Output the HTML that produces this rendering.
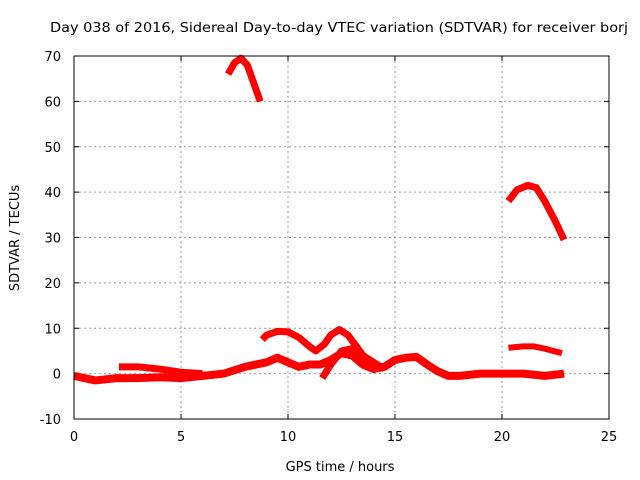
<!DOCTYPE html>
<html><head><meta charset="utf-8"><style>
body{margin:0;background:#fff;}
svg{display:block;font-family:"DejaVu Sans","Liberation Sans",sans-serif;}
</style></head><body>
<svg id="c" width="640" height="480">
<text x="50" y="32" font-size="13" textLength="578" lengthAdjust="spacingAndGlyphs">Day 038 of 2016, Sidereal Day-to-day VTEC variation (SDTVAR) for receiver borj</text>
<text x="340" y="471" font-size="13" text-anchor="middle">GPS time / hours</text>
<text x="19" y="238" font-size="13" text-anchor="middle" transform="rotate(-90 19 238)">SDTVAR / TECUs</text>
<g id="grid"></g><g id="marks"></g>
<rect x="74" y="56" width="535" height="363" fill="none" stroke="#000" stroke-width="1"/>
</svg>
<script>
const xTicks=[0,5,10,15,20,25];
const yTicks=[-10,0,10,20,30,40,50,60,70];
const seriesA=[[0,-0.5],[0.5,-1],[1,-1.5],[2,-1],[3,-1],[4,-0.8],[5,-1],[6,-0.5],[7,0],[8,1.5],[8.5,2],[9,2.5],[9.5,3.5],[10,2.5],[10.5,1.5],[11,2],[11.5,2],[12,3],[12.5,4.5],[13,4],[13.5,2],[14,1],[14.5,1.5],[15,3],[15.5,3.5],[16,3.7],[16.5,2],[17,0.5],[17.5,-0.5],[18,-0.5],[19,0],[20,0],[21,0],[22,-0.5],[22.9,0]];
const seriesB=[[2.1,1.5],[3,1.5],[4,1],[5,0.3],[6,0]];
const seriesC=[[8.8,7.5],[9,8.5],[9.5,9.3],[10,9.2],[10.5,8],[11,6],[11.3,5],[11.7,6.5],[12,8.5],[12.4,9.7],[12.8,8.5],[13.2,6],[13.5,4],[14,2.5],[14.5,1]];
const seriesD=[[11.6,-1],[12,2],[12.5,5],[13,5.5],[13.5,4],[14,2]];
const seriesE=[[7.2,66],[7.5,68.5],[7.8,69.5],[8.1,68],[8.4,64],[8.7,60]];
const seriesF=[[20.3,38],[20.7,40.5],[21.2,41.5],[21.6,41],[22,38],[22.5,33.5],[22.9,29.5]];
const seriesG=[[20.3,5.7],[21,6],[21.5,6],[22,5.5],[22.8,4.5]];
const NS='http://www.w3.org/2000/svg';
const X=v=>74+v*535/25, Y=v=>419-(v+10)*363/80;
const grid=document.getElementById('grid'), marks=document.getElementById('marks');
function mk(t,a,p){const e=document.createElementNS(NS,t);for(const k in a)e.setAttribute(k,a[k]);p.appendChild(e);return e;}
xTicks.forEach(t=>{
  if(t>0&&t<25){const l=mk('line',{x1:X(t),x2:X(t),y1:56,y2:419,stroke:'#999','stroke-dasharray':'2,3'},grid);
  
  }
  const tk=mk('text',{x:X(t),y:441,'font-size':13,'text-anchor':'middle'},grid);tk.textContent=t;
  
  
  mk('line',{x1:X(t),x2:X(t),y1:419,y2:414,stroke:'#000'},grid);
  mk('line',{x1:X(t),x2:X(t),y1:56,y2:61,stroke:'#000'},grid);
});
yTicks.forEach(t=>{
  if(t>-10&&t<70){const l=mk('line',{x1:74,x2:609,y1:Y(t),y2:Y(t),stroke:'#999','stroke-dasharray':'2,3'},grid);
  
  }
  const tk=mk('text',{x:61,y:Y(t)+5,'font-size':13,'text-anchor':'end'},grid);tk.textContent=t;
  
  
  mk('line',{x1:74,x2:79,y1:Y(t),y2:Y(t),stroke:'#000'},grid);
  mk('line',{x1:604,x2:609,y1:Y(t),y2:Y(t),stroke:'#000'},grid);
});
const all=[['series-a',seriesA,8],['series-b',seriesB,7],['series-c',seriesC,7],['series-d',seriesD,7],['series-e',seriesE,7],['series-f',seriesF,7],['series-g',seriesG,6]];
all.forEach(([n,s,w])=>{
  const p=mk('polyline',{points:s.map(d=>X(d[0])+','+Y(d[1])).join(' '),fill:'none',stroke:'#f00','stroke-width':w,'stroke-linejoin':'round'},marks);
  
  
});
</script>
</body></html>
